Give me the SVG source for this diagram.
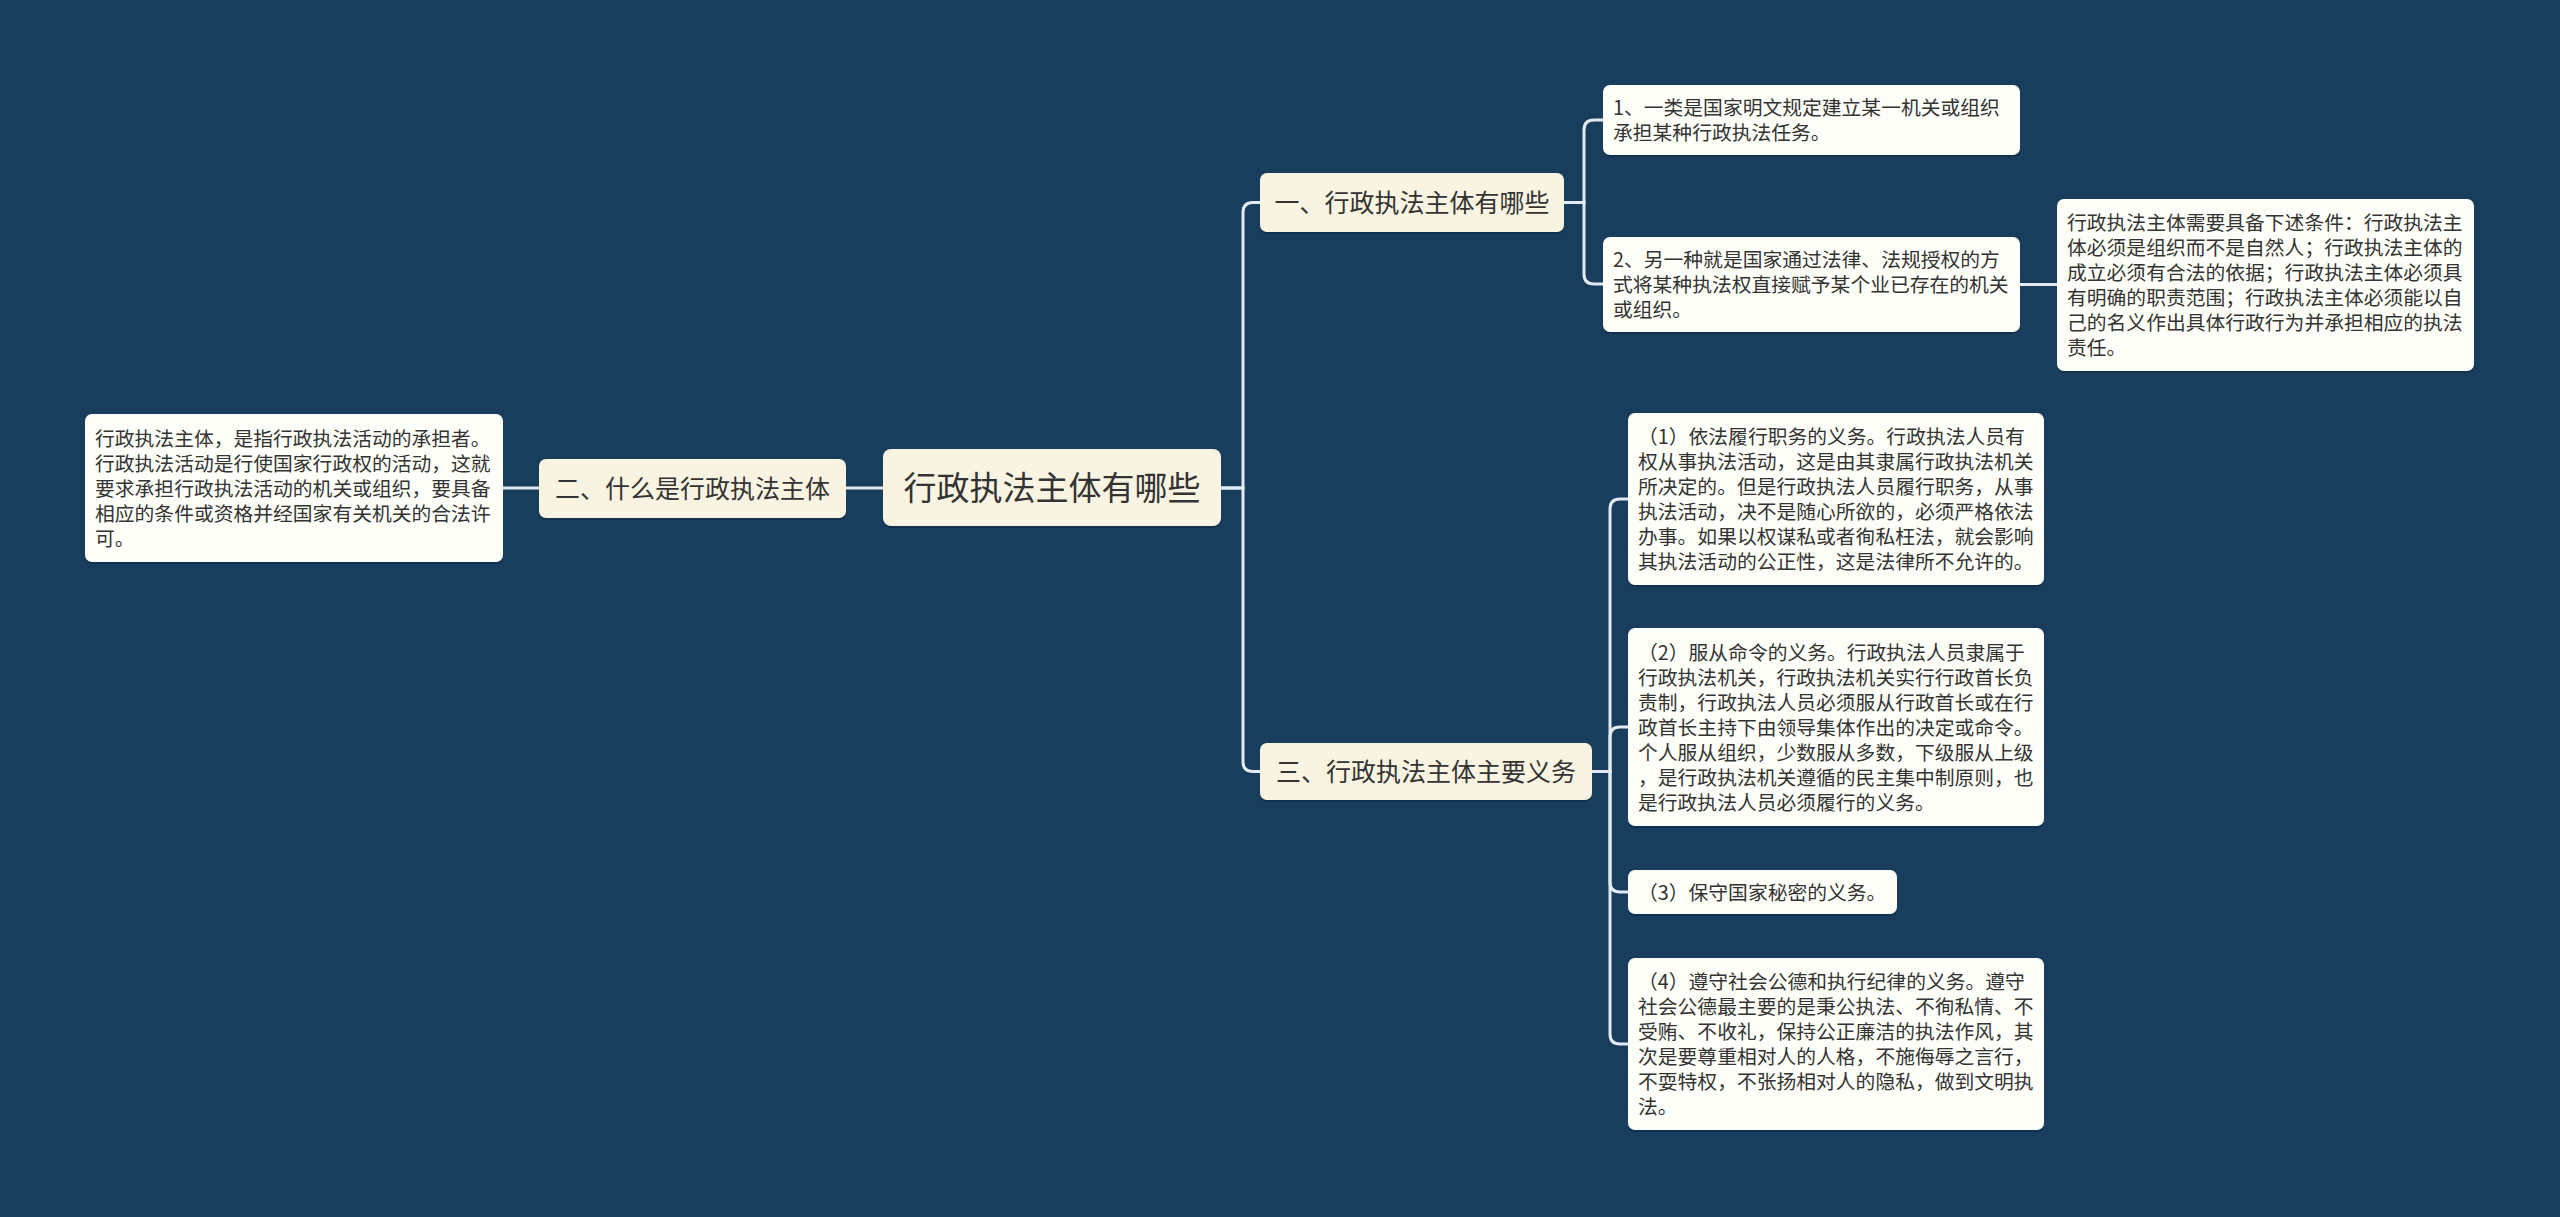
<svg xmlns="http://www.w3.org/2000/svg" width="2560" height="1217" viewBox="0 0 2560 1217">
<style>
text{font-family:"Noto Sans CJK SC","Noto Sans",sans-serif;fill:#333333;}
.l1{font-size:25px;text-anchor:middle;}
.root{font-size:33px;text-anchor:middle;}
.lf{font-size:19.8px;}
.b1{fill:#f9f4e1;}
.bl{fill:#fefef8;}
.sh{fill:#0d2840;opacity:0.55;}
.c{fill:none;stroke:#e3eaf0;stroke-width:3;}
</style>
<rect width="2560" height="1217" fill="#183d5d"/>
<g id="connectors">
<path class="c" d="M883 488H846"/>
<path class="c" d="M539 488H503"/>
<path class="c" d="M1221 488H1243V212.5Q1243 202.5 1253 202.5H1260"/>
<path class="c" d="M1221 488H1243V761.5Q1243 771.5 1253 771.5H1260"/>
<path class="c" d="M1564 202.5H1584V130Q1584 120 1594 120H1603"/>
<path class="c" d="M1564 202.5H1584V274Q1584 284 1594 284H1603"/>
<path class="c" d="M2020 284.5H2057"/>
<path class="c" d="M1592 771.5H1610V509Q1610 499 1620 499H1628"/>
<path class="c" d="M1592 771.5H1610V737Q1610 727 1620 727H1628"/>
<path class="c" d="M1592 771.5H1610V882Q1610 892 1620 892H1628"/>
<path class="c" d="M1592 771.5H1610V1034Q1610 1044 1620 1044H1628"/>
</g>
<g id="root">
<rect class="sh" x="883" y="451" width="338" height="77" rx="8"/>
<rect class="b1" x="883" y="449" width="338" height="77" rx="8"/>
<text class="root" x="1052" y="500">行政执法主体有哪些</text>
</g>
<g id="n2">
<rect class="sh" x="539" y="461" width="307" height="59" rx="7"/>
<rect class="b1" x="539" y="459" width="307" height="59" rx="7"/>
<text class="l1" x="692.5" y="497.5">二、什么是行政执法主体</text>
</g>
<g id="n2a">
<rect class="sh" x="85" y="416" width="418" height="148" rx="7"/>
<rect class="bl" x="85" y="414" width="418" height="148" rx="7"/>
<text class="lf" x="95" y="445.5">行政执法主体，是指行政执法活动的承担者。</text>
<text class="lf" x="95" y="470.5">行政执法活动是行使国家行政权的活动，这就</text>
<text class="lf" x="95" y="495.5">要求承担行政执法活动的机关或组织，要具备</text>
<text class="lf" x="95" y="520.5">相应的条件或资格并经国家有关机关的合法许</text>
<text class="lf" x="95" y="545.5">可。</text>
</g>
<g id="n1">
<rect class="sh" x="1260" y="175" width="304" height="59" rx="7"/>
<rect class="b1" x="1260" y="173" width="304" height="59" rx="7"/>
<text class="l1" x="1412" y="211.5">一、行政执法主体有哪些</text>
</g>
<g id="n1a">
<rect class="sh" x="1603" y="87" width="417" height="70" rx="7"/>
<rect class="bl" x="1603" y="85" width="417" height="70" rx="7"/>
<text class="lf" x="1613" y="115">1、一类是国家明文规定建立某一机关或组织</text>
<text class="lf" x="1613" y="140">承担某种行政执法任务。</text>
</g>
<g id="n1b">
<rect class="sh" x="1603" y="239" width="417" height="95" rx="7"/>
<rect class="bl" x="1603" y="237" width="417" height="95" rx="7"/>
<text class="lf" x="1613" y="267">2、另一种就是国家通过法律、法规授权的方</text>
<text class="lf" x="1613" y="292">式将某种执法权直接赋予某个业已存在的机关</text>
<text class="lf" x="1613" y="317">或组织。</text>
</g>
<g id="n1b1">
<rect class="sh" x="2057" y="201" width="417" height="172" rx="7"/>
<rect class="bl" x="2057" y="199" width="417" height="172" rx="7"/>
<text class="lf" x="2067" y="230">行政执法主体需要具备下述条件：行政执法主</text>
<text class="lf" x="2067" y="255">体必须是组织而不是自然人；行政执法主体的</text>
<text class="lf" x="2067" y="280">成立必须有合法的依据；行政执法主体必须具</text>
<text class="lf" x="2067" y="305">有明确的职责范围；行政执法主体必须能以自</text>
<text class="lf" x="2067" y="330">己的名义作出具体行政行为并承担相应的执法</text>
<text class="lf" x="2067" y="355">责任。</text>
</g>
<g id="n3">
<rect class="sh" x="1260" y="745" width="332" height="57" rx="7"/>
<rect class="b1" x="1260" y="743" width="332" height="57" rx="7"/>
<text class="l1" x="1426" y="780.5">三、行政执法主体主要义务</text>
</g>
<g id="n3a">
<rect class="sh" x="1628" y="415" width="416" height="172" rx="7"/>
<rect class="bl" x="1628" y="413" width="416" height="172" rx="7"/>
<text class="lf" x="1638" y="444">（1）依法履行职务的义务。行政执法人员有</text>
<text class="lf" x="1638" y="469">权从事执法活动，这是由其隶属行政执法机关</text>
<text class="lf" x="1638" y="494">所决定的。但是行政执法人员履行职务，从事</text>
<text class="lf" x="1638" y="519">执法活动，决不是随心所欲的，必须严格依法</text>
<text class="lf" x="1638" y="544">办事。如果以权谋私或者徇私枉法，就会影响</text>
<text class="lf" x="1638" y="569">其执法活动的公正性，这是法律所不允许的。</text>
</g>
<g id="n3b">
<rect class="sh" x="1628" y="630" width="416" height="198" rx="7"/>
<rect class="bl" x="1628" y="628" width="416" height="198" rx="7"/>
<text class="lf" x="1638" y="659.5">（2）服从命令的义务。行政执法人员隶属于</text>
<text class="lf" x="1638" y="684.5">行政执法机关，行政执法机关实行行政首长负</text>
<text class="lf" x="1638" y="709.5">责制，行政执法人员必须服从行政首长或在行</text>
<text class="lf" x="1638" y="734.5">政首长主持下由领导集体作出的决定或命令。</text>
<text class="lf" x="1638" y="759.5">个人服从组织，少数服从多数，下级服从上级</text>
<text class="lf" x="1638" y="784.5">，是行政执法机关遵循的民主集中制原则，也</text>
<text class="lf" x="1638" y="809.5">是行政执法人员必须履行的义务。</text>
</g>
<g id="n3c">
<rect class="sh" x="1628" y="872" width="269" height="44" rx="7"/>
<rect class="bl" x="1628" y="870" width="269" height="44" rx="7"/>
<text class="lf" x="1638" y="899.5">（3）保守国家秘密的义务。</text>
</g>
<g id="n3d">
<rect class="sh" x="1628" y="960" width="416" height="172" rx="7"/>
<rect class="bl" x="1628" y="958" width="416" height="172" rx="7"/>
<text class="lf" x="1638" y="989">（4）遵守社会公德和执行纪律的义务。遵守</text>
<text class="lf" x="1638" y="1014">社会公德最主要的是秉公执法、不徇私情、不</text>
<text class="lf" x="1638" y="1039">受贿、不收礼，保持公正廉洁的执法作风，其</text>
<text class="lf" x="1638" y="1064">次是要尊重相对人的人格，不施侮辱之言行，</text>
<text class="lf" x="1638" y="1089">不耍特权，不张扬相对人的隐私，做到文明执</text>
<text class="lf" x="1638" y="1114">法。</text>
</g>
</svg>
